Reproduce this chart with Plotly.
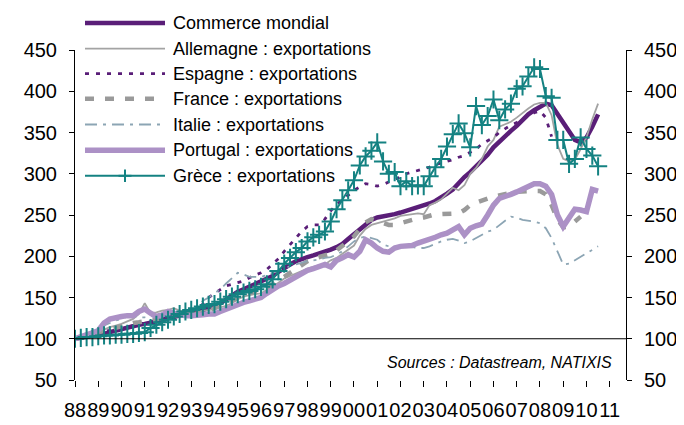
import plotly.graph_objects as go

# ---------------- data (quarterly, 1988Q1 .. 2010Q3) ----------------
start_year = 1988
n_quarters = 91
quarters = [start_year + i / 4 for i in range(n_quarters)]

year_ticks = list(range(1988, 2012))
year_labels = ["88", "89", "90", "91", "92", "93", "94", "95", "96", "97", "98", "99",
               "00", "01", "02", "03", "04", "05", "06", "07", "08", "09", "10", "11"]
y_ticks = [50, 100, 150, 200, 250, 300, 350, 400, 450]

commerce_mondial = [
    100, 101, 102, 103,
    104, 106, 108, 110,
    112, 113, 115, 117,
    118, 119, 121, 123,
    125, 127, 128, 130,
    131, 133, 135, 137,
    139, 143, 148, 153,
    157, 160, 163, 166,
    169, 172, 176, 181,
    186, 190, 194, 197,
    199, 201, 203, 205,
    208, 211, 215, 221,
    227, 233, 239, 244,
    247, 248, 249, 251,
    253, 255, 257, 259,
    262, 264, 267, 271,
    276, 281, 289, 296,
    302, 309, 316, 323,
    332, 339, 346, 352,
    358, 365, 372, 377,
    381, 385, 383, 372,
    362, 350, 341, 338,
    344, 357, 372,
]

allemagne = [
    100, 102, 105, 107,
    108, 111, 114, 116,
    118, 121, 124, 130,
    143, 131, 132, 134,
    135, 137, 134, 133,
    132, 133, 134, 135,
    136, 138, 140, 143,
    148, 151, 153, 154,
    155, 159, 163, 168,
    173, 176, 179, 182,
    185, 187, 189, 190,
    195, 198, 203, 208,
    213, 225, 233, 238,
    240, 242, 244, 246,
    249, 250, 251, 252,
    251, 262, 265, 269,
    276, 283, 280, 286,
    300, 307, 318, 333,
    341, 357, 360, 363,
    368, 374, 379, 384,
    386, 386, 371, 335,
    318, 315, 317, 330,
    344, 366, 385,
]

espagne = [
    100, 102, 104, 105,
    107, 109, 110, 112,
    113, 114, 116, 118,
    119, 121, 122, 124,
    125, 126, 127, 128,
    130, 135, 142, 150,
    155, 160, 164, 166,
    168, 170, 174, 177,
    180, 184, 190, 197,
    206, 214, 222, 230,
    236, 238, 238, 245,
    255, 263, 268, 274,
    280, 284, 288, 287,
    285, 287, 290, 293,
    296, 300, 302, 304,
    306, 308, 311, 313,
    315, 317, 320, 322,
    326, 330, 336, 340,
    344, 350, 355, 359,
    362, 366, 371, 374,
    376, 368, 345, None,
    None, None, None, None,
    None, None, None,
]

france = [
    100, 102, 104, 106,
    108, 110, 112, 114,
    116, 117, 119, 120,
    121, 122, 124, 125,
    127, 128, 129, 130,
    129, 130, 132, 134,
    137, 140, 143, 146,
    150, 153, 155, 157,
    159, 162, 166, 170,
    175, 180, 185, 190,
    194, 197, 199, 201,
    203, 207, 213, 218,
    224, 233, 241, 245,
    243, 240, 238, 238,
    240, 243, 245, 246,
    247, 249, 251, 251,
    251, 251, 252, 256,
    262, 265, 268, 270,
    272, 274, 276, 277,
    278, 279, 279, 279,
    279, 275, 262, 245,
    235, 236, 242, 248,
    None, None, None,
]

italie = [
    100, 104, 107, 110,
    113, 116, 119, 122,
    124, 127, 127, 126,
    126, 127, 128, 129,
    130, 131, 132, 133,
    134, 138, 146, 150,
    155, 160, 167, 174,
    180, 178, 175, 175,
    175, 177, 180, 182,
    185, 188, 190, 192,
    194, 195, 196, 198,
    199, 202, 206, 212,
    218, 222, 224, 222,
    220, 214, 212, 212,
    212, 212, 211, 210,
    210, 212, 215, 218,
    220, 221, 219, 216,
    218, 222, 226, 230,
    232, 238, 243, 248,
    247, 244, 243, 242,
    240, 234, 222, 205,
    190, 191, 195, 199,
    204, 208, 212,
]

portugal = [
    100, 102, 104, 107,
    110, 119, 124, 126,
    127, 128, 128, 133,
    136, 131, 127, 129,
    133, 131, 129, 128,
    128, 128, 129, 130,
    130, 133, 136, 139,
    141, 144, 146, 148,
    150, 155, 160, 164,
    167, 171, 176, 180,
    183, 185, 187, 190,
    187, 195, 198, 202,
    199, 206, 220, 216,
    210, 206, 205, 210,
    212, 212, 213, 216,
    218, 221, 223, 226,
    228, 232, 236, 226,
    234, 237, 239, 250,
    262, 270, 272, 275,
    278, 281, 284, 288,
    288, 285, 275, 250,
    236, 246, 257, 256,
    254, 281, 279,
]

grece = [
    100, 101, 102, 102,
    103, 104, 104, 105,
    105, 106, 106, 107,
    108, 113, 117, 120,
    123, 127, 130, 133,
    135, 137, 139, 141,
    142, 145, 148, 151,
    154, 156, 158, 160,
    163, 166, 172, 182,
    191, 198, 205, 210,
    218, 223, 226, 230,
    242, 257, 268, 280,
    292, 310, 321, 328,
    338, 315, 300, 302,
    285, 291, 285, 286,
    285, 297, 308, 318,
    333, 348, 361, 349,
    332, 382, 359, 370,
    390, 365, 378, 385,
    403, 406, 418, 429,
    427, 394, 392, 341,
    341, 312, 318, 344,
    330, 322, 309,
]

# ---------------- styles ----------------
FONT = "Liberation Sans, Arial, sans-serif"
C_WORLD = "#5A1E78"
C_GER = "#A3A3A3"
C_ESP = "#5A1E78"
C_FRA = "#9A9A9A"
C_ITA = "#8CA5B4"
C_POR = "#AC91C6"
C_GRE = "#148282"

series = [
    ("Commerce mondial", commerce_mondial, dict(color=C_WORLD, width=4.5), None),
    ("Allemagne : exportations", allemagne, dict(color=C_GER, width=1.8), None),
    ("Espagne : exportations", espagne, dict(color=C_ESP, width=2.8, dash="4px,7px"), None),
    ("France : exportations", france, dict(color=C_FRA, width=4.5, dash="9px,11px"), None),
    ("Italie : exportations", italie, dict(color=C_ITA, width=1.8, dash="12px,6px,3px,6px"), None),
    ("Portugal : exportations", portugal, dict(color=C_POR, width=5.5), None),
    ("Grèce : exportations", grece, dict(color=C_GRE, width=2),
     dict(symbol="cross-thin", size=13, line=dict(color=C_GRE, width=2))),
]

fig = go.Figure()
for name, vals, line, marker in series:
    is_last = marker is not None
    fig.add_trace(go.Scatter(
        x=quarters, y=vals, name=name,
        mode="lines+markers" if marker else "lines",
        line=line, marker=marker, connectgaps=False,
        yaxis="y2" if is_last else "y",
        showlegend=False, hoverinfo="skip",
    ))

# ---------------- layout ----------------
L, R, T, B = 67, 618, 42, 383
W, H = 684, 425


def px(xp):
    return (xp - L) / (R - L)


def py(yp):
    return (B - yp) / (B - T)


axis_common = dict(
    range=[50, 450], tickvals=y_ticks, showgrid=False, zeroline=False,
    showline=True, linecolor="#000000", linewidth=1,
    ticks="outside", ticklen=5, tickcolor="#000000",
    tickfont=dict(family=FONT, size=20, color="#000000"),
    fixedrange=True,
)

fig.update_layout(
    width=W, height=H,
    margin=dict(l=L, r=W - R, t=T, b=H - B),
    paper_bgcolor="white", plot_bgcolor="white",
    showlegend=False,
    xaxis=dict(
        range=[1988, 2011.70], tickvals=year_ticks, ticktext=year_labels,
        tickangle=0, showgrid=False, zeroline=False, showline=False,
        ticks="outside", ticklen=6, tickcolor="#000000",
        tickfont=dict(family=FONT, size=20, color="#000000"),
        ticklabelstandoff=6,
    ),
    yaxis=dict(**axis_common, side="left", ticklabelstandoff=8),
    yaxis2=dict(**axis_common, side="right", overlaying="y", ticklabelstandoff=8),
)

shapes = [dict(type="line", xref="paper", yref="y", x0=0, x1=1, y0=100, y1=100,
               line=dict(color="#000000", width=1))]
annotations = []

# manual legend (long samples like the original)
rows = [14, 40.5, 66.5, 92.5, 119, 145.5, 172]
for (name, vals, line, marker), ry in zip(series, rows):
    lw = dict(color=line["color"], width=line["width"])
    if "dash" in line:
        lw["dash"] = line["dash"]
    shapes.append(dict(type="line", xref="paper", yref="paper",
                       x0=px(77), x1=px(157), y0=py(ry), y1=py(ry), line=lw))
    if marker:
        shapes.append(dict(type="line", xref="paper", yref="paper",
                           x0=px(110.5), x1=px(123.5), y0=py(ry), y1=py(ry),
                           line=dict(color=C_GRE, width=2)))
        shapes.append(dict(type="line", xref="paper", yref="paper",
                           x0=px(117), x1=px(117), y0=py(ry - 6.5), y1=py(ry + 6.5),
                           line=dict(color=C_GRE, width=2)))
    annotations.append(dict(xref="paper", yref="paper", x=px(163), y=py(ry),
                            xanchor="left", yanchor="middle", text=name, showarrow=False,
                            font=dict(family=FONT, size=18, color="#000000")))

annotations.append(dict(xref="paper", yref="paper", x=px(606), y=py(365),
                        xanchor="right", yanchor="middle",
                        text="<i>Sources : Datastream, NATIXIS</i>", showarrow=False,
                        font=dict(family=FONT, size=16, color="#000000")))

fig.update_layout(shapes=shapes, annotations=annotations)

fig.write_html("out.html")
